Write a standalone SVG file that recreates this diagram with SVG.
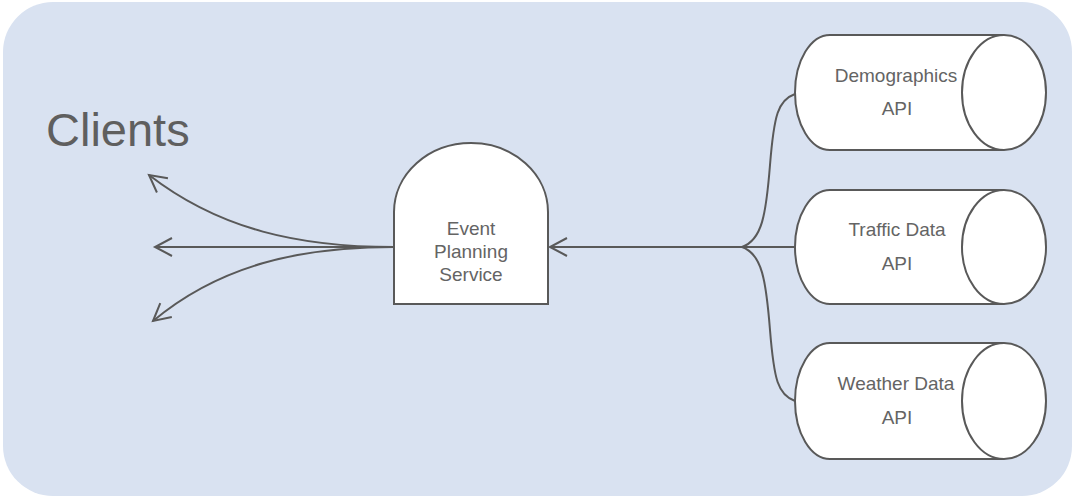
<svg xmlns="http://www.w3.org/2000/svg" width="1072" height="499" viewBox="0 0 1072 499">
<defs>
<marker id="arr" markerUnits="userSpaceOnUse" markerWidth="30" markerHeight="30" refX="0" refY="0" viewBox="-20 -15 30 30" orient="auto" overflow="visible">
<path d="M-17,-9 L0,0 L-17,9" fill="none" stroke="#595959" stroke-width="2"/>
</marker>
</defs>
<style>
.shape{fill:#ffffff;stroke:#595959;stroke-width:2}
.conn{fill:none;stroke:#595959;stroke-width:2}
.lbl{font-family:"Liberation Sans",Arial,sans-serif;font-size:19px;fill:#646464;text-anchor:middle}
</style>
<rect x="0" y="0" width="1072" height="499" fill="#ffffff"/>
<rect x="3" y="2" width="1069" height="494" rx="50" ry="50" fill="#d9e2f1"/>
<text x="46" y="146" font-family="Liberation Sans, Arial, sans-serif" font-size="47" fill="#5f5f5f">Clients</text>
<g id="connectors">
<path class="conn" d="M394,247 L155,247" marker-end="url(#arr)"/>
<path class="conn" d="M394,247 C300,247 220,230 149,175" marker-end="url(#arr)"/>
<path class="conn" d="M394,247 C300,247 220,265 153,321" marker-end="url(#arr)"/>
<path class="conn" d="M795,247 L550,247" marker-end="url(#arr)"/>
<path class="conn" d="M742,247 C762,240 766,215 770,165 C774,115 778,100 795,94"/>
<path class="conn" d="M742,247 C762,254 766,280 770,330 C774,380 778,395 795,401"/>
</g>
<g id="event-planning-service">
<path class="shape" d="M394,304 L394,212 A77,69 0 0 1 548,212 L548,304 Z"/>
<text class="lbl" x="471" y="235">Event</text>
<text class="lbl" x="471" y="258">Planning</text>
<text class="lbl" x="471" y="281">Service</text>
</g>
<g id="demographics-api">
<path class="shape" d="M1004,35 L830,35 A35,57.5 0 0 0 830,150 L1004,150"/>
<ellipse class="shape" cx="1004" cy="92.5" rx="42" ry="57.5"/>
<text class="lbl" x="896" y="82">Demographics</text>
<text class="lbl" x="897" y="115">API</text>
</g>
<g id="traffic-data-api">
<path class="shape" d="M1004,190 L830,190 A35,57 0 0 0 830,304 L1004,304"/>
<ellipse class="shape" cx="1004" cy="247" rx="42" ry="57"/>
<text class="lbl" x="897" y="236">Traffic Data</text>
<text class="lbl" x="897" y="270">API</text>
</g>
<g id="weather-data-api">
<path class="shape" d="M1004,343 L830,343 A35,58 0 0 0 830,459 L1004,459"/>
<ellipse class="shape" cx="1004" cy="401" rx="42" ry="58"/>
<text class="lbl" x="896" y="390">Weather Data</text>
<text class="lbl" x="897" y="424">API</text>
</g>
</svg>
